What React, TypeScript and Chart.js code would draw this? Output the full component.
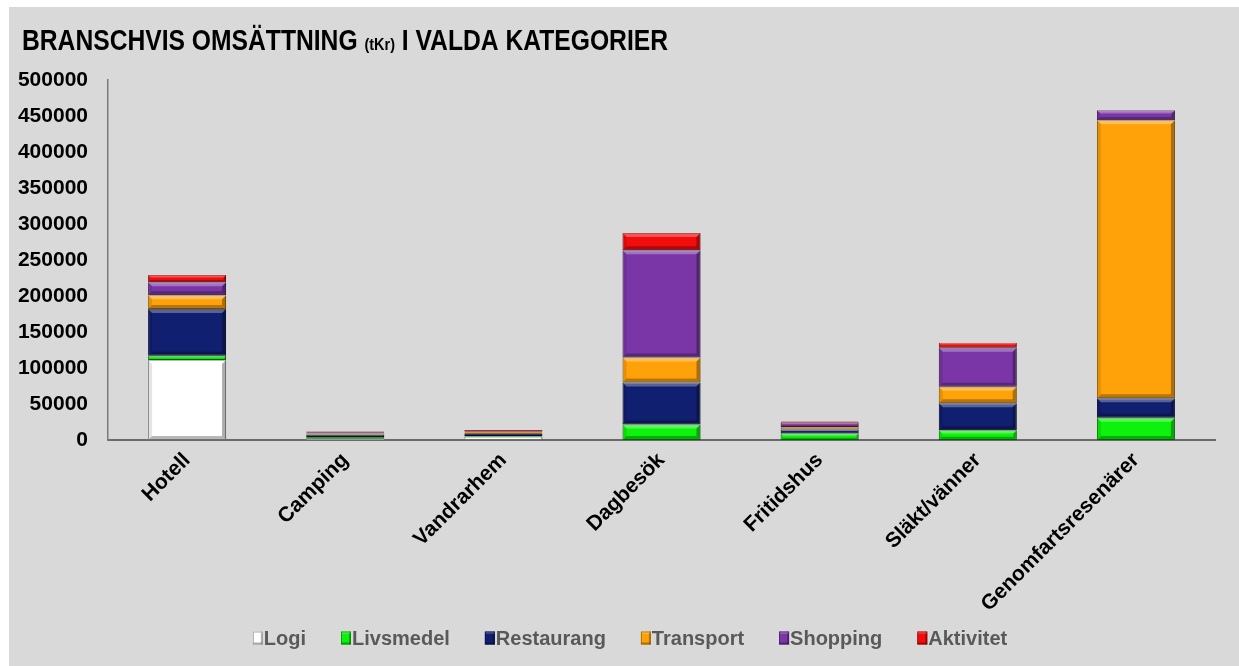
import React, { useEffect, useRef } from "react";
import { Chart, registerables } from "chart.js";

Chart.register(...registerables);

const categories = ["Hotell", "Camping", "Vandrarhem", "Dagbesök", "Fritidshus", "Släkt/vänner", "Genomfartsresenärer"];
const seriesNames = ["Logi", "Livsmedel", "Restaurang", "Transport", "Shopping", "Aktivitet"];
const logi = [111000, 1800, 4500, 0, 0, 0, 0];
const livsmedel = [6000, 2300, 1200, 21500, 9000, 13500, 31000];
const restaurang = [65000, 3200, 2800, 58500, 5500, 37500, 27000];
const transport = [19000, 1800, 1800, 34500, 3500, 23000, 386000];
const shopping = [18000, 1500, 1400, 149000, 6000, 54000, 14000];
const aktivitet = [10000, 1200, 2300, 24000, 1800, 7000, 0];
const seriesValues = [logi, livsmedel, restaurang, transport, shopping, aktivitet];
const fillColors = ["#ffffff", "#0cf20c", "#101f70", "#ffa20a", "#7a36a6", "#f20c0c"];
const borderColors = ["#9a9a9a", "#0a8a0a", "#0a1240", "#a86a00", "#4a1e68", "#9a0808"];
const yMax = 500000;
const yStep = 50000;
const titleParts = [
  { text: "BRANSCHVIS OMSÄTTNING ", size: 29 },
  { text: "(tKr)", size: 17 },
  { text: " I VALDA KATEGORIER", size: 29 },
];

const FONT = "'Liberation Sans', Arial, sans-serif";

const bevelPlugin = {
  id: "bevel",
  afterDatasetsDraw(chart: any) {
    const ctx = chart.ctx;
    chart.data.datasets.forEach((_ds: any, i: number) => {
      const meta = chart.getDatasetMeta(i);
      if (meta.hidden) return;
      meta.data.forEach((el: any) => {
        const { x, y, base, width } = el.getProps(["x", "y", "base", "width"], true);
        const left = x - width / 2;
        const right = x + width / 2;
        const top = Math.min(y, base);
        const bottom = Math.max(y, base);
        const h = bottom - top;
        if (h < 1.5) return;
        const b = Math.min(4, h / 3);
        ctx.save();
        ctx.fillStyle = "rgba(255,255,255,0.3)";
        ctx.beginPath();
        ctx.moveTo(left, top); ctx.lineTo(right, top); ctx.lineTo(right - b, top + b); ctx.lineTo(left + b, top + b);
        ctx.closePath(); ctx.fill();
        ctx.fillStyle = "rgba(0,0,0,0.28)";
        ctx.beginPath();
        ctx.moveTo(left, bottom); ctx.lineTo(right, bottom); ctx.lineTo(right - b, bottom - b); ctx.lineTo(left + b, bottom - b);
        ctx.closePath(); ctx.fill();
        ctx.fillStyle = "rgba(0,0,0,0.1)";
        ctx.beginPath();
        ctx.moveTo(left, top); ctx.lineTo(left + b, top + b); ctx.lineTo(left + b, bottom - b); ctx.lineTo(left, bottom);
        ctx.closePath(); ctx.fill();
        ctx.fillStyle = "rgba(0,0,0,0.32)";
        ctx.beginPath();
        ctx.moveTo(right, top); ctx.lineTo(right - b, top + b); ctx.lineTo(right - b, bottom - b); ctx.lineTo(right, bottom);
        ctx.closePath(); ctx.fill();
        ctx.restore();
      });
    });
  },
};

const titlePlugin = {
  id: "customTitle",
  afterDraw(chart: any) {
    const ctx = chart.ctx;
    ctx.save();
    let total = 0;
    titleParts.forEach((p) => {
      ctx.font = `bold ${p.size}px ${FONT}`;
      total += ctx.measureText(p.text).width;
    });
    const sx = 646 / total;
    ctx.translate(13, 43);
    ctx.scale(sx, 1);
    ctx.fillStyle = "#000";
    ctx.textBaseline = "alphabetic";
    let cx = 0;
    titleParts.forEach((p) => {
      ctx.font = `bold ${p.size}px ${FONT}`;
      ctx.fillText(p.text, cx, 0);
      cx += ctx.measureText(p.text).width;
    });
    ctx.restore();
  },
};

const legendPlugin = {
  id: "customLegend",
  afterDraw(chart: any) {
    const ctx = chart.ctx;
    ctx.save();
    ctx.font = `bold 20px ${FONT}`;
    const boxW = 10, boxH = 13, gapBox = 1, gapItem = 35;
    const widths = seriesNames.map((n) => boxW + gapBox + ctx.measureText(n).width);
    const total = widths.reduce((a, b) => a + b, 0) + gapItem * (seriesNames.length - 1);
    let x = 621 - total / 2;
    const cy = 631;
    seriesNames.forEach((n, i) => {
      ctx.fillStyle = fillColors[i];
      ctx.fillRect(x, cy - boxH / 2, boxW, boxH);
      ctx.fillStyle = "rgba(0,0,0,0.3)";
      ctx.fillRect(x + boxW - 2, cy - boxH / 2, 2, boxH);
      ctx.fillRect(x, cy + boxH / 2 - 2, boxW, 2);
      ctx.fillStyle = "rgba(255,255,255,0.35)";
      ctx.fillRect(x, cy - boxH / 2, boxW, 2);
      ctx.strokeStyle = borderColors[i];
      ctx.lineWidth = 0.8;
      ctx.strokeRect(x + 0.5, cy - boxH / 2 + 0.5, boxW - 1, boxH - 1);
      ctx.fillStyle = "#595959";
      ctx.textBaseline = "middle";
      ctx.textAlign = "left";
      ctx.fillText(n, x + boxW + gapBox, cy + 1);
      x += widths[i] + gapItem;
    });
    ctx.restore();
  },
};

export default function App() {
  const ref = useRef<HTMLCanvasElement | null>(null);
  useEffect(() => {
    if (!ref.current) return;
    const chart = new Chart(ref.current, {
      type: "bar",
      data: {
        labels: categories,
        datasets: seriesNames.map((name, i) => ({
          label: name,
          data: seriesValues[i],
          backgroundColor: fillColors[i],
          borderColor: borderColors[i],
          borderWidth: 1,
          borderSkipped: false,
          categoryPercentage: 1,
          barPercentage: 0.493,
        })),
      },
      options: {
        animation: false,
        responsive: false,
        maintainAspectRatio: false,
        layout: { padding: { left: 0, right: 24, top: 73, bottom: 0 } },
        plugins: {
          legend: { display: false },
          title: { display: false },
          tooltip: { enabled: false },
        },
        scales: {
          x: {
            stacked: true,
            grid: { display: false, drawTicks: false },
            border: { display: true, color: "#6a6a6a", width: 2 },
            ticks: {
              autoSkip: false,
              maxRotation: 45,
              minRotation: 45,
              padding: 8,
              color: "#000",
              font: { family: FONT, size: 21, weight: "bold" },
            },
            afterFit(scale: any) { scale.height = 226; },
          },
          y: {
            stacked: true,
            min: 0,
            max: yMax,
            grid: { display: false, drawTicks: false },
            border: { display: true, color: "#7a7a7a", width: 1.5 },
            ticks: {
              stepSize: yStep,
              padding: 20,
              color: "#000",
              font: { family: FONT, size: 21, weight: "bold" },
              callback: (v: any) => String(v),
            },
            afterFit(scale: any) { scale.width = 99; },
          },
        },
      },
      plugins: [bevelPlugin, titlePlugin, legendPlugin],
    });
    return () => chart.destroy();
  }, []);
  return (
    <div style={{ position: "absolute", left: 9, top: 7, width: 1230, height: 659, background: "#d9d9d9" }}>
      <canvas ref={ref} width={1230} height={659} style={{ display: "block" }} />
    </div>
  );
}
